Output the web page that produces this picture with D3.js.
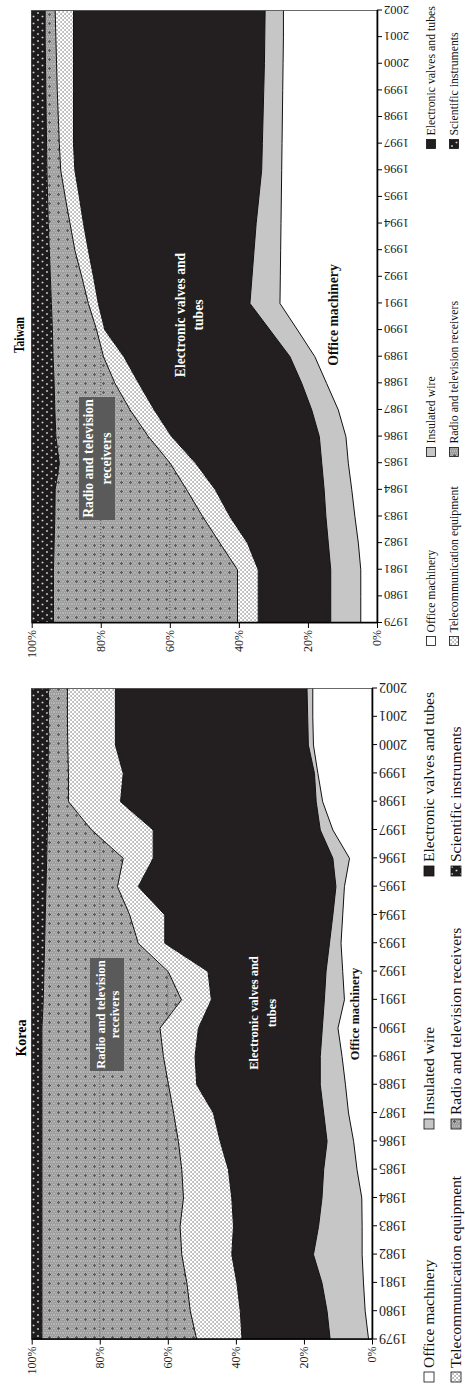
<!DOCTYPE html>
<html lang='en'>
<head>
  <meta charset='utf-8'/>
  <title>Korea and Taiwan: electronics export shares</title>
  <script src='https://d3js.org/d3.v7.min.js'></script>
  <style>
    body{margin:0;background:#ffffff;}
    svg{display:block;font-family:'Liberation Serif','Times New Roman',serif;}
  </style>
</head>
<body>
<svg id='chart'></svg>
<script>
// Data (shares in %, 1979-2002)
const years = [1979, 1980, 1981, 1982, 1983, 1984, 1985, 1986, 1987, 1988, 1989, 1990,
               1991, 1992, 1993, 1994, 1995, 1996, 1997, 1998, 1999, 2000, 2001, 2002];

const seriesKeys   = ['office', 'wire', 'valves', 'telecom', 'radio', 'science'];
const seriesLabels = ['Office machinery', 'Insulated wire', 'Electronic valves and tubes',
                      'Telecommunication equipment', 'Radio and television receivers', 'Scientific instruments'];
const pctTicks = [0, 20, 40, 60, 80, 100];

const koreaOffice  = [1.0, 2.0, 2.5, 2.9, 2.9, 3.0, 4.4, 5.4, 6.9, 7.8, 8.8, 10.0, 8.1, 8.6, 9.1, 8.6, 8.1, 6.6, 11.5, 14.5, 15.9, 17.2, 17.4, 17.4];
const koreaWire    = [11.3, 11.2, 12.2, 14.3, 12.8, 11.7, 9.8, 7.8, 7.3, 7.4, 6.4, 4.6, 5.9, 4.9, 3.4, 2.9, 2.5, 4.9, 3.7, 1.9, 1.0, 1.5, 1.5, 1.7];
const koreaValves  = [25.9, 25.5, 25.0, 24.0, 25.0, 26.5, 28.0, 31.4, 32.4, 36.3, 36.8, 36.4, 33.2, 34.7, 48.4, 49.4, 58.1, 52.8, 49.1, 57.5, 56.2, 56.7, 56.5, 56.3];
const koreaTelecom = [13.3, 14.7, 14.7, 14.7, 15.7, 14.2, 13.7, 12.3, 11.7, 8.3, 9.3, 11.3, 8.8, 11.7, 7.8, 10.3, 6.1, 8.8, 18.1, 15.3, 16.1, 14.0, 14.1, 14.1];
const koreaRadio   = [45.5, 43.6, 42.6, 41.1, 40.6, 41.6, 41.1, 40.1, 38.7, 37.2, 35.7, 34.7, 40.6, 36.5, 27.5, 24.8, 21.0, 22.5, 13.0, 6.1, 6.0, 5.7, 5.6, 5.6];
const koreaScience = [3.0, 3.0, 3.0, 3.0, 3.0, 3.0, 3.0, 3.0, 3.0, 3.0, 3.0, 3.0, 3.4, 3.6, 3.8, 4.0, 4.2, 4.4, 4.6, 4.7, 4.8, 4.9, 4.9, 4.9];

const taiwanOffice  = [4.7, 4.7, 4.7, 5.4, 6.4, 7.3, 8.3, 9.0, 11.2, 14.6, 18.0, 23.0, 28.1, 28.0, 27.9, 27.8, 27.7, 27.6, 27.5, 27.4, 27.3, 27.2, 27.1, 27.1];
const taiwanWire    = [8.7, 8.7, 8.7, 8.7, 8.4, 8.0, 7.7, 7.7, 7.7, 7.2, 7.2, 8.0, 8.7, 8.2, 7.7, 7.2, 6.5, 5.8, 5.7, 5.6, 5.5, 5.4, 5.4, 5.3];
const taiwanValves  = [21.0, 21.0, 21.0, 23.4, 27.8, 31.5, 36.5, 42.8, 45.6, 47.2, 48.1, 47.8, 43.9, 45.9, 48.0, 50.0, 52.0, 54.1, 54.7, 54.9, 55.1, 55.3, 55.4, 55.5];
const taiwanTelecom = [6.0, 6.0, 6.0, 8.0, 7.9, 8.3, 7.4, 6.7, 7.0, 6.9, 5.9, 2.4, 2.9, 3.4, 3.9, 3.9, 4.1, 4.1, 4.1, 4.4, 4.7, 4.9, 5.1, 5.3];
const taiwanRadio   = [53.3, 53.3, 53.3, 48.0, 42.8, 38.1, 32.1, 26.8, 21.8, 17.6, 14.6, 12.8, 10.7, 9.1, 7.4, 6.3, 5.1, 4.0, 3.7, 3.5, 3.3, 3.2, 3.1, 2.9];
const taiwanScience = [6.3, 6.3, 6.3, 6.5, 6.7, 6.8, 8.0, 7.0, 6.7, 6.5, 6.2, 6.0, 5.7, 5.4, 5.1, 4.8, 4.6, 4.4, 4.3, 4.2, 4.1, 4.0, 3.9, 3.9];

// Page is the landscape figure turned a quarter turn: draw in landscape (u, v) and rotate
const PAGE_W = 465, PAGE_H = 1387;

const svg = d3.select('#chart').attr('width', PAGE_W).attr('height', PAGE_H);
const defs = svg.append('defs');
const root = svg.append('g').attr('transform', `translate(0,${PAGE_H}) rotate(-90)`);

// Fill patterns
function pattern(id, w, h, bg) {
  const p = defs.append('pattern').attr('id', id).attr('patternUnits', 'userSpaceOnUse')
    .attr('width', w).attr('height', h);
  p.append('rect').attr('width', w).attr('height', h).attr('fill', bg);
  return p;
}
const pTele = pattern('pTele', 4, 4, '#ffffff');
[[1, 1], [3, 3]].forEach(([x, y]) => pTele.append('circle').attr('cx', x).attr('cy', y).attr('r', 0.85).attr('fill', '#8a8a8a'));

const pRadio = pattern('pRadio', 9, 9, '#9e9e9e');
for (let i = 0; i < 9; i += 2) for (let j = (i / 2) % 2; j < 9; j += 2) {
  pRadio.append('rect').attr('x', i).attr('y', j).attr('width', 1).attr('height', 1).attr('fill', '#b8b8b8');
}
pRadio.append('rect').attr('x', 3).attr('y', 4).attr('width', 3).attr('height', 1).attr('fill', '#5c5c5c');
pRadio.append('rect').attr('x', 4).attr('y', 3).attr('width', 1).attr('height', 3).attr('fill', '#5c5c5c');

const pSci = pattern('pSci', 7, 9, '#1e1c1d');
[[2, 2], [5.5, 6.5]].forEach(([x, y]) => pSci.append('circle').attr('cx', x).attr('cy', y).attr('r', 0.9).attr('fill', '#d4d4d4'));

const fills = {
  office: '#ffffff', wire: '#c6c6c6', valves: '#231f20',
  telecom: 'url(#pTele)', radio: 'url(#pRadio)', science: 'url(#pSci)'
};

const panels = [
  {
    id: 'korea', title: 'Korea',
    series: [koreaOffice, koreaWire, koreaValves, koreaTelecom, koreaRadio, koreaScience],
    u0: 47.5, u1: 698.5, vTop: 31.7, vBot: 372,
    titleU: 349, titleV: 21, titleSize: 14,
    yearSize: 14, pctSize: 12,
    legCols: [10, 263, 516], legRows: [429, 456], legBox: 10, legSize: 15.5,
    annSize: 12.5,
    radioBox: {u: 316, w: 113, v: 90, h: 34}, radioLines: [100.5, 114.5], radioU: 372.5,
    valveLines: [254, 272], valveU: 374,
    officeV: 355, officeU: 373
  },
  {
    id: 'taiwan', title: 'Taiwan',
    series: [taiwanOffice, taiwanWire, taiwanValves, taiwanTelecom, taiwanRadio, taiwanScience],
    u0: 764, u1: 1376.5, vTop: 31.7, vBot: 377,
    titleU: 1052, titleV: 19, titleSize: 14, titleLen: 36,
    yearSize: 12.5, pctSize: 12,
    legCols: [746, 935, 1243], legRows: [431, 454], legBox: 9, legSize: 11.8,
    annSize: 13.7,
    radioBox: {u: 867, w: 123, v: 79, h: 36}, radioLines: [88, 106], radioU: 928.5,
    valveLines: [180, 198], valveU: 1072,
    officeV: 333, officeU: 1072
  }
];

panels.forEach(drawPanel);

function drawPanel(cfg) {
  const rows = years.map((year, i) => {
    const r = {year};
    seriesKeys.forEach((k, j) => r[k] = cfg.series[j][i]);
    return r;
  });
  const stacked = d3.stack().keys(seriesKeys)(rows);

  const x = d3.scaleLinear().domain([years[0], years[years.length - 1]]).range([cfg.u0, cfg.u1]);
  const y = d3.scaleLinear().domain([0, 100]).range([cfg.vBot, cfg.vTop]);

  const g = root.append('g').attr('class', cfg.id);

  const area = d3.area().x(d => x(d.data.year)).y0(d => y(d[0])).y1(d => y(Math.min(100, d[1])));
  const top  = d3.line().x(d => x(d.data.year)).y(d => y(Math.min(100, d[1])));

  g.selectAll('.layer').data(stacked).join('path')
    .attr('class', 'layer')
    .attr('fill', d => fills[d.key])
    .attr('d', area);

  g.selectAll('.edge').data(stacked).join('path')
    .attr('class', 'edge')
    .attr('fill', 'none')
    .attr('stroke', '#111')
    .attr('stroke-width', 1)
    .attr('d', top);

  // dotted gridlines show through the radio layer only
  const clipId = 'clip-' + cfg.id;
  defs.append('clipPath').attr('id', clipId)
    .append('path').attr('d', area(stacked[4]));
  g.append('g').attr('clip-path', `url(#${clipId})`)
    .selectAll('line').data(pctTicks.slice(1, -1)).join('line')
      .attr('x1', cfg.u0).attr('x2', cfg.u1)
      .attr('y1', d => y(d)).attr('y2', d => y(d))
      .attr('stroke', '#3a3a3a').attr('stroke-width', 0.8).attr('stroke-dasharray', '1,2');

  // plot frame
  g.append('rect')
    .attr('x', cfg.u0).attr('y', cfg.vTop)
    .attr('width', cfg.u1 - cfg.u0).attr('height', cfg.vBot - cfg.vTop)
    .attr('fill', 'none').attr('stroke', '#444').attr('stroke-width', 0.8);

  // year axis
  const xAxis = g.append('g').attr('transform', `translate(0,${cfg.vBot})`)
    .call(d3.axisBottom(x).tickValues(years).tickSize(5).tickSizeOuter(0).tickFormat(d3.format('d')));
  xAxis.select('.domain').attr('stroke', '#000').attr('stroke-width', 1.6);
  xAxis.selectAll('text')
    .attr('x', -7).attr('y', 0).attr('dy', '0.35em')
    .attr('transform', 'rotate(-90)')
    .style('text-anchor', 'end')
    .style('font-family', 'Liberation Serif, serif')
    .style('font-size', cfg.yearSize + 'px')
    .attr('fill', '#222');

  // percent axis
  const yAxis = g.append('g').attr('transform', `translate(${cfg.u0},0)`)
    .call(d3.axisLeft(y).tickValues(pctTicks).tickSize(5).tickSizeOuter(0).tickFormat(d => d + '%'));
  yAxis.select('.domain').attr('stroke', '#000').attr('stroke-width', 1.6);
  yAxis.selectAll('text')
    .attr('x', -7)
    .style('font-family', 'Liberation Serif, serif')
    .style('font-size', cfg.pctSize + 'px')
    .attr('fill', '#222');

  // title
  const t = g.append('text')
    .attr('x', cfg.titleU).attr('y', cfg.titleV).attr('dy', '0.35em')
    .attr('text-anchor', 'middle')
    .attr('font-weight', 'bold').attr('font-size', cfg.titleSize)
    .text(cfg.title);
  if (cfg.titleLen) t.attr('textLength', cfg.titleLen).attr('lengthAdjust', 'spacingAndGlyphs');

  // in-chart labels
  g.append('rect')
    .attr('x', cfg.radioBox.u).attr('y', cfg.radioBox.v)
    .attr('width', cfg.radioBox.w).attr('height', cfg.radioBox.h)
    .attr('fill', '#5a5a5a');
  ['Radio and television', 'receivers'].forEach((s, i) => {
    g.append('text').attr('x', cfg.radioU).attr('y', cfg.radioLines[i]).attr('dy', '0.35em')
      .attr('text-anchor', 'middle').attr('fill', '#fff')
      .attr('font-weight', 'bold').attr('font-size', cfg.annSize).text(s);
  });
  ['Electronic valves and', 'tubes'].forEach((s, i) => {
    g.append('text').attr('x', cfg.valveU).attr('y', cfg.valveLines[i]).attr('dy', '0.35em')
      .attr('text-anchor', 'middle').attr('fill', '#fff')
      .attr('font-weight', 'bold').attr('font-size', cfg.annSize).text(s);
  });
  g.append('text').attr('x', cfg.officeU).attr('y', cfg.officeV).attr('dy', '0.35em')
    .attr('text-anchor', 'middle').attr('fill', '#111')
    .attr('font-weight', 'bold').attr('font-size', cfg.annSize).text('Office machinery');

  // legend: two rows of three
  const leg = g.append('g').attr('class', 'legend');
  seriesKeys.forEach((k, i) => {
    const cu = cfg.legCols[i % 3], cv = cfg.legRows[Math.floor(i / 3)];
    const b = cfg.legBox;
    leg.append('rect')
      .attr('x', cu - b / 2).attr('y', cv - b / 2).attr('width', b).attr('height', b)
      .attr('fill', fills[k]).attr('stroke', '#111').attr('stroke-width', 0.8);
    leg.append('text')
      .attr('x', cu + b / 2 + 4).attr('y', cv).attr('dy', '0.35em')
      .attr('font-size', cfg.legSize).attr('fill', '#111')
      .text(seriesLabels[i]);
  });
}
</script>
</body>
</html>
